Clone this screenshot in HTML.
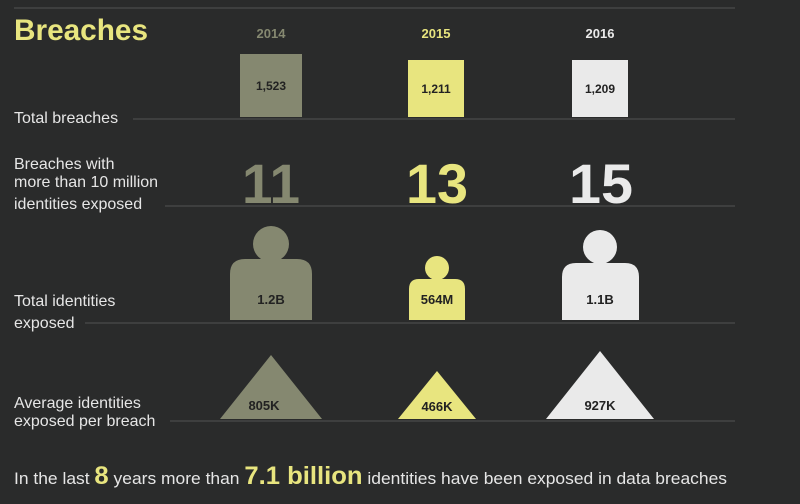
<!DOCTYPE html>
<html><head><style>html,body{margin:0;padding:0;background:#2a2b2b;}svg{display:block}</style></head>
<body>
<svg width="800" height="504" viewBox="0 0 800 504" xmlns="http://www.w3.org/2000/svg" font-family="Liberation Sans, sans-serif">
<rect width="800" height="504" fill="#2a2b2b"/>
<g stroke="#3e3f3f" stroke-width="2">
<line x1="14" y1="8" x2="735" y2="8"/>
<line x1="133" y1="119" x2="735" y2="119"/>
<line x1="165" y1="206" x2="735" y2="206"/>
<line x1="85" y1="323" x2="735" y2="323"/>
<line x1="170" y1="421" x2="735" y2="421"/>
</g>
<text x="14" y="40" font-size="30" font-weight="bold" fill="#e8e57f" textLength="134" lengthAdjust="spacingAndGlyphs">Breaches</text>
<g font-size="13" font-weight="bold" text-anchor="middle">
<text x="271" y="38" fill="#858870">2014</text>
<text x="436" y="38" fill="#e8e57f">2015</text>
<text x="600" y="38" fill="#eaeaea">2016</text>
</g>
<g fill="#e6e6e6" font-size="16">
<text x="14" y="123">Total breaches</text>
<text x="14" y="169">Breaches with</text>
<text x="14" y="187">more than 10 million</text>
<text x="14" y="209">identities exposed</text>
<text x="14" y="306">Total identities</text>
<text x="14" y="328">exposed</text>
<text x="14" y="408">Average identities</text>
<text x="14" y="426">exposed per breach</text>
</g>
<rect x="240" y="54" width="62" height="63" fill="#858870"/>
<rect x="408" y="60" width="56" height="57" fill="#e8e57f"/>
<rect x="572" y="60" width="56" height="57" fill="#eaeaea"/>
<g font-size="12" font-weight="bold" fill="#222" text-anchor="middle">
<text x="271" y="90">1,523</text>
<text x="436" y="93">1,211</text>
<text x="600" y="93">1,209</text>
</g>
<g font-size="56" font-weight="bold" text-anchor="middle">
<text x="271" y="203" fill="#858870" textLength="58" lengthAdjust="spacingAndGlyphs">11</text>
<text x="437" y="203" fill="#e8e57f" textLength="62" lengthAdjust="spacingAndGlyphs">13</text>
<text x="601" y="203" fill="#eaeaea" textLength="64" lengthAdjust="spacingAndGlyphs">15</text>
</g>
<circle cx="271" cy="244" r="18" fill="#858870"/>
<path d="M230 320 V274 Q230 259 245 259 H297 Q312 259 312 274 V320 Z" fill="#858870"/>
<circle cx="437" cy="268" r="12" fill="#e8e57f"/>
<path d="M409 320 V289 Q409 279 419 279 H455 Q465 279 465 289 V320 Z" fill="#e8e57f"/>
<circle cx="600" cy="247" r="17" fill="#eaeaea"/>
<path d="M562 320 V277 Q562 263 576 263 H625 Q639 263 639 277 V320 Z" fill="#eaeaea"/>
<g font-size="13" font-weight="bold" fill="#222" text-anchor="middle">
<text x="271" y="304">1.2B</text>
<text x="437" y="304">564M</text>
<text x="600" y="304">1.1B</text>
</g>
<polygon points="271,355 322,419 220,419" fill="#858870"/>
<polygon points="437,371 476,419 398,419" fill="#e8e57f"/>
<polygon points="600,351 654,419 546,419" fill="#eaeaea"/>
<g font-size="13" font-weight="bold" fill="#222" text-anchor="middle">
<text x="264" y="410">805K</text>
<text x="437" y="411">466K</text>
<text x="600" y="410">927K</text>
</g>
<text x="14" y="484" font-size="17" fill="#e6e6e6" textLength="713" lengthAdjust="spacingAndGlyphs">In the last <tspan font-size="25" font-weight="bold" fill="#e8e57f">8</tspan> years more than <tspan font-size="25" font-weight="bold" fill="#e8e57f">7.1 billion</tspan> identities have been exposed in data breaches</text>
</svg>
</body></html>
